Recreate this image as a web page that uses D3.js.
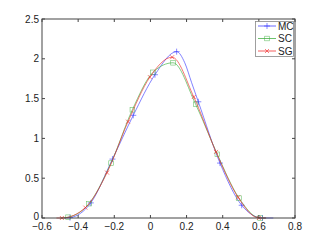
<!DOCTYPE html>
<html><head><meta charset="utf-8">
<script src="https://cdn.jsdelivr.net/npm/d3@7"></script>
<style>body{margin:0;background:#fff}svg{display:block}text{font-family:"Liberation Sans",Arial,Helvetica,sans-serif;font-size:10px;fill:#222}</style>
</head><body>
<svg id="c" width="327" height="246"></svg>
<script>
// data
const xTicks = [-0.6,-0.4,-0.2,0,0.2,0.4,0.6,0.8];
const yTicks = [0,0.5,1,1.5,2,2.5];
const seriesNames = ["MC","SC","SG"];
const mcX = [-0.48,-0.445,-0.33,-0.21,-0.095,0.025,0.145,0.19,0.228,0.265,0.385,0.505,0.62,0.68];
const mcY = [0,0.005,0.19,0.74,1.29,1.80,2.09,1.95,1.70,1.46,0.69,0.16,0.0,0];
const mcM = [1,2,3,4,5,6,9,10,11,12];
const scX = [-0.5,-0.456,-0.34,-0.218,-0.10,0.014,0.125,0.25,0.37,0.49,0.607,0.64];
const scY = [0,0.01,0.18,0.69,1.36,1.83,1.95,1.43,0.80,0.25,0.0,0];
const scM = [1,2,3,4,5,6,7,8,9,10];
const sgX = [-0.52,-0.49,-0.36,-0.24,-0.124,-0.003,0.12,0.24,0.363,0.485,0.6,0.64];
const sgY = [0,0.0,0.13,0.57,1.21,1.77,2.02,1.52,0.83,0.26,0.0,0];
const sgM = [1,2,3,4,5,6,7,8,9,10];
const colors = ["#3a3aff","#3cae3c","#f02828"];

const svg = d3.select("#c");
const L=42,R=295,T=19,B=218;
const x = d3.scaleLinear().domain([-0.6,0.8]).range([L,R]);
const y = d3.scaleLinear().domain([0,2.5]).range([B,T]);
const fmt = d => d===0?"0":String(d).replace("-","\u2212");

const series = [[mcX,mcY,mcM],[scX,scY,scM],[sgX,sgY,sgM]];
const line = d3.line().x(d=>x(d[0])).y(d=>y(d[1])).curve(d3.curveMonotoneX);
const g = svg.append("g");
function marker(sel, kind, px, py, c){
  if(kind===0){
    sel.append("path").attr("d",`M${px-3},${py}H${px+3}M${px},${py-3}V${py+3}`).attr("stroke",c).attr("stroke-width",0.6).attr("fill","none");
  } else if(kind===1){
    sel.append("rect").attr("x",px-2.3).attr("y",py-2.3).attr("width",4.6).attr("height",4.6).attr("stroke",c).attr("stroke-width",0.6).attr("stroke-opacity",0.75).attr("fill","none");
  } else {
    sel.append("path").attr("d",`M${px-2},${py-2}L${px+2},${py+2}M${px-2},${py+2}L${px+2},${py-2}`).attr("stroke",c).attr("stroke-width",0.6).attr("fill","none");
  }
}
series.forEach((s,i)=>{
  const pts = s[0].map((v,j)=>[v,s[1][j]]);
  g.append("path").attr("d",line(pts)).attr("fill","none").attr("stroke",colors[i]).attr("stroke-width",0.75).attr("stroke-opacity",0.85);
  s[2].forEach(j=>marker(g,i,x(s[0][j]),y(s[1][j]),colors[i]));
});

// axes box
const ax = svg.append("g").attr("stroke","#444").attr("stroke-width",1).attr("fill","none");
ax.append("rect").attr("x",L).attr("y",T).attr("width",R-L).attr("height",B-T);
xTicks.forEach(t=>{
  ax.append("line").attr("x1",x(t)).attr("x2",x(t)).attr("y1",B).attr("y2",B-3);
  ax.append("line").attr("x1",x(t)).attr("x2",x(t)).attr("y1",T).attr("y2",T+3);
  svg.append("text").attr("x",x(t)).attr("y",B+12).attr("text-anchor","middle").text(fmt(t));
});
yTicks.forEach(t=>{
  ax.append("line").attr("x1",L).attr("x2",L+3).attr("y1",y(t)).attr("y2",y(t));
  ax.append("line").attr("x1",R).attr("x2",R-3).attr("y1",y(t)).attr("y2",y(t));
  svg.append("text").attr("x",L-3).attr("y",y(t)+(t===0?2:3.5)).attr("text-anchor","end").text(fmt(t));
});

// legend
const lg = svg.append("g");
lg.append("rect").attr("x",255.5).attr("y",21.5).attr("width",38).attr("height",35).attr("fill","#fff").attr("stroke","#888").attr("stroke-width",0.8);
const ly=[26,38.5,51];
seriesNames.forEach((n,i)=>{
  lg.append("line").attr("x1",258).attr("x2",276).attr("y1",ly[i]).attr("y2",ly[i]).attr("stroke",colors[i]).attr("stroke-width",0.75);
  marker(lg,i,267,ly[i],colors[i]);
  lg.append("text").attr("x",278).attr("y",ly[i]+3.5).text(n);
});
</script>
</body></html>
